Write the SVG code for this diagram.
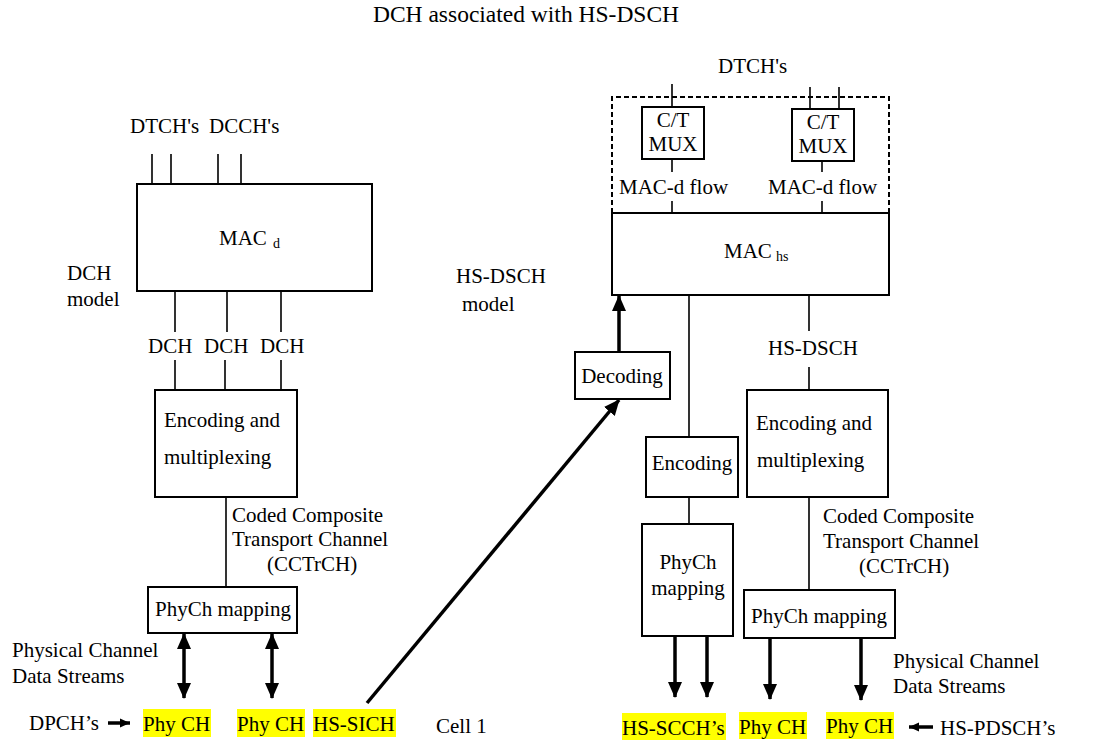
<svg xmlns="http://www.w3.org/2000/svg" width="1106" height="743" viewBox="0 0 1106 743">
<style>
text{font-family:"Liberation Serif","Times New Roman",serif;font-size:21px;fill:#000}
.box{fill:#fff;stroke:#000;stroke-width:2}
.ln{stroke:#000;stroke-width:1.6;fill:none}
.thick{stroke:#000;stroke-width:3.5;fill:none}
.hl{fill:#ffff00}
.sub{font-size:14px}
.mid{text-anchor:middle}
</style>
<defs>
<marker id="ah" markerUnits="userSpaceOnUse" markerWidth="16" markerHeight="16" viewBox="0 0 16 16" refX="15" refY="8" orient="auto-start-reverse"><path d="M0,1 L16,8 L0,15 z" fill="#000"/></marker>
<marker id="ahs" markerUnits="userSpaceOnUse" markerWidth="10" markerHeight="10" viewBox="0 0 10 10" refX="10" refY="5" orient="auto"><path d="M0,0.5 L10,5 L0,9.5 z" fill="#000"/></marker>
</defs>
<rect width="1106" height="743" fill="#fff"/>
<text x="526" y="22" class="mid" style="font-size:23.5px">DCH associated with HS-DSCH</text>

<g id="connectors">
<path class="ln" d="M152,154V184M171,154V184M218,154V184M241,154V184"/>
<path class="ln" d="M175,291V332M227,291V332M281,291V332"/>
<path class="ln" d="M175,360V390M225,360V390M281,360V390"/>
<path class="ln" d="M226,497V587"/>
<line class="thick" x1="184" y1="634" x2="184" y2="698" marker-start="url(#ah)" marker-end="url(#ah)"/>
<line class="thick" x1="272" y1="634" x2="272" y2="698" marker-start="url(#ah)" marker-end="url(#ah)"/>
<line class="thick" x1="108" y1="723" x2="130" y2="723" marker-end="url(#ahs)"/>
<line class="thick" x1="367" y1="703" x2="619" y2="400" marker-end="url(#ah)"/>
<path class="ln" d="M672,84V107M810,87V109M839,87V109"/>
<path class="ln" d="M672,159V172M822,161V172M672,201V213M822,201V213"/>
<path class="ln" d="M689,295V437M809,295V331M809,367V390M689,497V524M809,497V590"/>
<line class="thick" x1="619" y1="352" x2="619" y2="296" marker-end="url(#ah)"/>
<line class="thick" x1="675" y1="636" x2="675" y2="697" marker-end="url(#ah)"/>
<line class="thick" x1="707" y1="636" x2="707" y2="697" marker-end="url(#ah)"/>
<line class="thick" x1="770" y1="638" x2="770" y2="699" marker-end="url(#ah)"/>
<line class="thick" x1="861" y1="638" x2="861" y2="700" marker-end="url(#ah)"/>
<line class="thick" x1="933" y1="727" x2="909" y2="727" marker-end="url(#ahs)"/>
</g>

<g id="left-labels">
<text x="130" y="133">DTCH's</text>
<text x="209" y="133">DCCH's</text>
<text x="67" y="280">DCH</text>
<text x="67" y="306">model</text>
<text x="148" y="353">DCH</text>
<text x="204" y="353">DCH</text>
<text x="260" y="353">DCH</text>
<text x="232" y="522">Coded Composite</text>
<text x="232" y="546">Transport Channel</text>
<text x="267" y="571">(CCTrCH)</text>
<text x="12" y="657">Physical Channel</text>
<text x="12" y="683">Data Streams</text>
<text x="29" y="730">DPCH’s</text>
<text x="436" y="733">Cell 1</text>
</g>

<g id="macd">
<rect class="box" x="137" y="184" width="235" height="107"/>
<text x="219" y="245">MAC</text><text x="273" y="248" class="sub">d</text>
</g>
<g id="enc-mux-left">
<rect class="box" x="155" y="390" width="142" height="107"/>
<text x="164" y="427">Encoding and</text>
<text x="164" y="464">multiplexing</text>
</g>
<g id="phych-left">
<rect class="box" x="148" y="587" width="149" height="46"/>
<text x="155" y="616">PhyCh mapping</text>
</g>
<g id="phy-ch-1">
<rect class="hl" x="143" y="709" width="68" height="28"/>
<text x="143" y="731">Phy CH</text>
</g>
<g id="phy-ch-2">
<rect class="hl" x="237" y="709" width="68" height="28"/>
<text x="237" y="731">Phy CH</text>
</g>
<g id="hs-sich">
<rect class="hl" x="313" y="709" width="83" height="28"/>
<text x="313" y="731">HS-SICH</text>
</g>

<g id="right-labels">
<text x="718" y="73">DTCH's</text>
<text x="619" y="194">MAC-d flow</text>
<text x="768" y="194">MAC-d flow</text>
<text x="456" y="283">HS-DSCH</text>
<text x="462" y="311">model</text>
<text x="768" y="355">HS-DSCH</text>
<text x="823" y="523">Coded Composite</text>
<text x="823" y="548">Transport Channel</text>
<text x="859" y="573">(CCTrCH)</text>
<text x="893" y="668">Physical Channel</text>
<text x="893" y="693">Data Streams</text>
<text x="940" y="735">HS-PDSCH’s</text>
</g>

<g id="mac-d-dashed">
<path d="M612,213V97H889V213" fill="none" stroke="#000" stroke-width="2" stroke-dasharray="5,3"/>
</g>
<g id="ct-mux-1">
<rect class="box" x="642" y="107" width="62" height="52"/>
<text x="673" y="127" class="mid">C/T</text>
<text x="673" y="151" class="mid">MUX</text>
</g>
<g id="ct-mux-2">
<rect class="box" x="792" y="109" width="62" height="52"/>
<text x="823" y="129" class="mid">C/T</text>
<text x="823" y="153" class="mid">MUX</text>
</g>
<g id="machs">
<rect class="box" x="612" y="213" width="277" height="82"/>
<text x="724" y="258">MAC</text><text x="776" y="261" class="sub">hs</text>
</g>
<g id="decoding">
<rect class="box" x="575" y="352" width="95" height="47"/>
<text x="622" y="383" class="mid">Decoding</text>
</g>
<g id="encoding">
<rect class="box" x="646" y="437" width="92" height="60"/>
<text x="692" y="470" class="mid">Encoding</text>
</g>
<g id="phych-tall">
<rect class="box" x="642" y="524" width="91" height="112"/>
<text x="688" y="569" class="mid">PhyCh</text>
<text x="688" y="595" class="mid">mapping</text>
</g>
<g id="enc-mux-right">
<rect class="box" x="747" y="390" width="141" height="107"/>
<text x="756" y="430">Encoding and</text>
<text x="757" y="467">multiplexing</text>
</g>
<g id="phych-right">
<rect class="box" x="744" y="590" width="151" height="48"/>
<text x="751" y="623">PhyCh mapping</text>
</g>
<g id="hs-scch">
<rect class="hl" x="622" y="713" width="104" height="27"/>
<text x="622" y="735">HS-SCCH’s</text>
</g>
<g id="phy-ch-3">
<rect class="hl" x="739" y="712" width="68" height="27"/>
<text x="739" y="734">Phy CH</text>
</g>
<g id="phy-ch-4">
<rect class="hl" x="826" y="712" width="68" height="27"/>
<text x="826" y="733">Phy CH</text>
</g>
</svg>
